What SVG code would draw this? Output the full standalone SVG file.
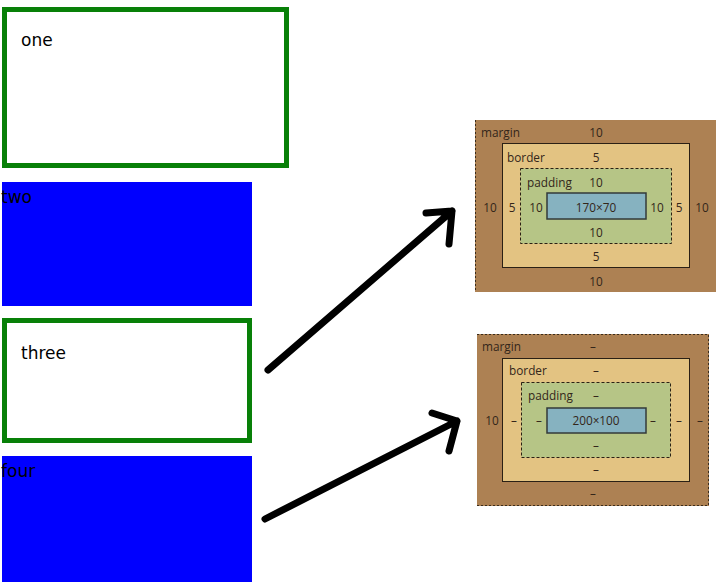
<svg xmlns="http://www.w3.org/2000/svg" width="724" height="586" viewBox="0 0 724 586">
<style>
.lbl{font-family:"DejaVu Sans",Verdana,sans-serif;font-size:17px;fill:#000}
.green{fill:#fff;stroke:#088008;stroke-width:5}
.blue{fill:#0000ff}
.bm{font-family:"Open Sans","Noto Sans",sans-serif;font-size:11.8px;fill:#33261a}
.mid{text-anchor:middle}
.mg{fill:#ad8153}
.bd{fill:#e3c382;stroke:#2a2015;stroke-width:1}
.pd{fill:#b6c586;stroke:#2a2015;stroke-width:1;stroke-dasharray:3 2}
.ct{fill:#86b2c0;stroke:#333a3a;stroke-width:1.5}
.dash{fill:none;stroke:#3a2c1c;stroke-width:1;stroke-dasharray:2 2}
.arrow{fill:none;stroke:#000;stroke-width:7;stroke-linecap:round;stroke-linejoin:round}
</style>
<rect width="724" height="586" fill="#fff"/>
<g id="one"><rect class="green" x="4.5" y="9.5" width="282" height="156"/><text class="lbl" x="21" y="46">one</text></g>
<g id="two"><rect class="blue" x="2" y="182" width="250" height="124"/><text class="lbl" x="1" y="203">two</text></g>
<g id="three"><rect class="green" x="4.5" y="320.5" width="245" height="120"/><text class="lbl" x="21" y="359">three</text></g>
<g id="four"><rect class="blue" x="2" y="456" width="250" height="126"/><text class="lbl" x="1" y="477">four</text></g>
<g id="boxmodel1">
<rect class="mg" x="475" y="120" width="241" height="172"/>
<line class="dash" x1="475.5" y1="120" x2="475.5" y2="292"/>
<rect class="bd" x="502.5" y="143.5" width="187" height="124"/>
<rect class="pd" x="520.5" y="168.5" width="151" height="75"/>
<rect class="ct" x="547" y="193" width="99" height="26"/>
<text class="bm" x="481" y="137">margin</text>
<text class="bm mid" x="596" y="137">10</text>
<text class="bm" x="507" y="162">border</text>
<text class="bm mid" x="596" y="162">5</text>
<text class="bm" x="527" y="187">padding</text>
<text class="bm mid" x="596" y="187">10</text>
<text class="bm mid" x="490" y="212">10</text>
<text class="bm mid" x="512" y="212">5</text>
<text class="bm mid" x="536" y="212">10</text>
<text class="bm mid" x="596" y="212">170×70</text>
<text class="bm mid" x="657" y="212">10</text>
<text class="bm mid" x="679" y="212">5</text>
<text class="bm mid" x="702" y="212">10</text>
<text class="bm mid" x="596" y="237">10</text>
<text class="bm mid" x="596" y="261">5</text>
<text class="bm mid" x="596" y="286">10</text>
</g>
<g id="boxmodel2">
<rect class="mg" x="477" y="334" width="232" height="172"/>
<path class="dash" d="M477 334.5H708.5V505.5H477"/>
<rect class="bd" x="502.5" y="358.5" width="187" height="123"/>
<rect class="pd" x="521.5" y="382.5" width="149" height="75"/>
<rect class="ct" x="547" y="408" width="99" height="25"/>
<text class="bm" x="482" y="351">margin</text>
<text class="bm mid" x="593" y="351">–</text>
<text class="bm" x="509" y="375">border</text>
<text class="bm mid" x="596" y="375">–</text>
<text class="bm" x="528" y="400">padding</text>
<text class="bm mid" x="596" y="400">–</text>
<text class="bm mid" x="492" y="425">10</text>
<text class="bm mid" x="514" y="425">–</text>
<text class="bm mid" x="539" y="425">–</text>
<text class="bm mid" x="596" y="425">200×100</text>
<text class="bm mid" x="653" y="425">–</text>
<text class="bm mid" x="679" y="425">–</text>
<text class="bm mid" x="700" y="425">–</text>
<text class="bm mid" x="596" y="450">–</text>
<text class="bm mid" x="596" y="474">–</text>
<text class="bm mid" x="593" y="498">–</text>
</g>
<g id="connectors">
<path class="arrow" d="M268 370L452 211M426 213L452 211L449 244"/>
<path class="arrow" d="M265 519L457 421M432 413L457 421L449 451"/>
</g>
</svg>
